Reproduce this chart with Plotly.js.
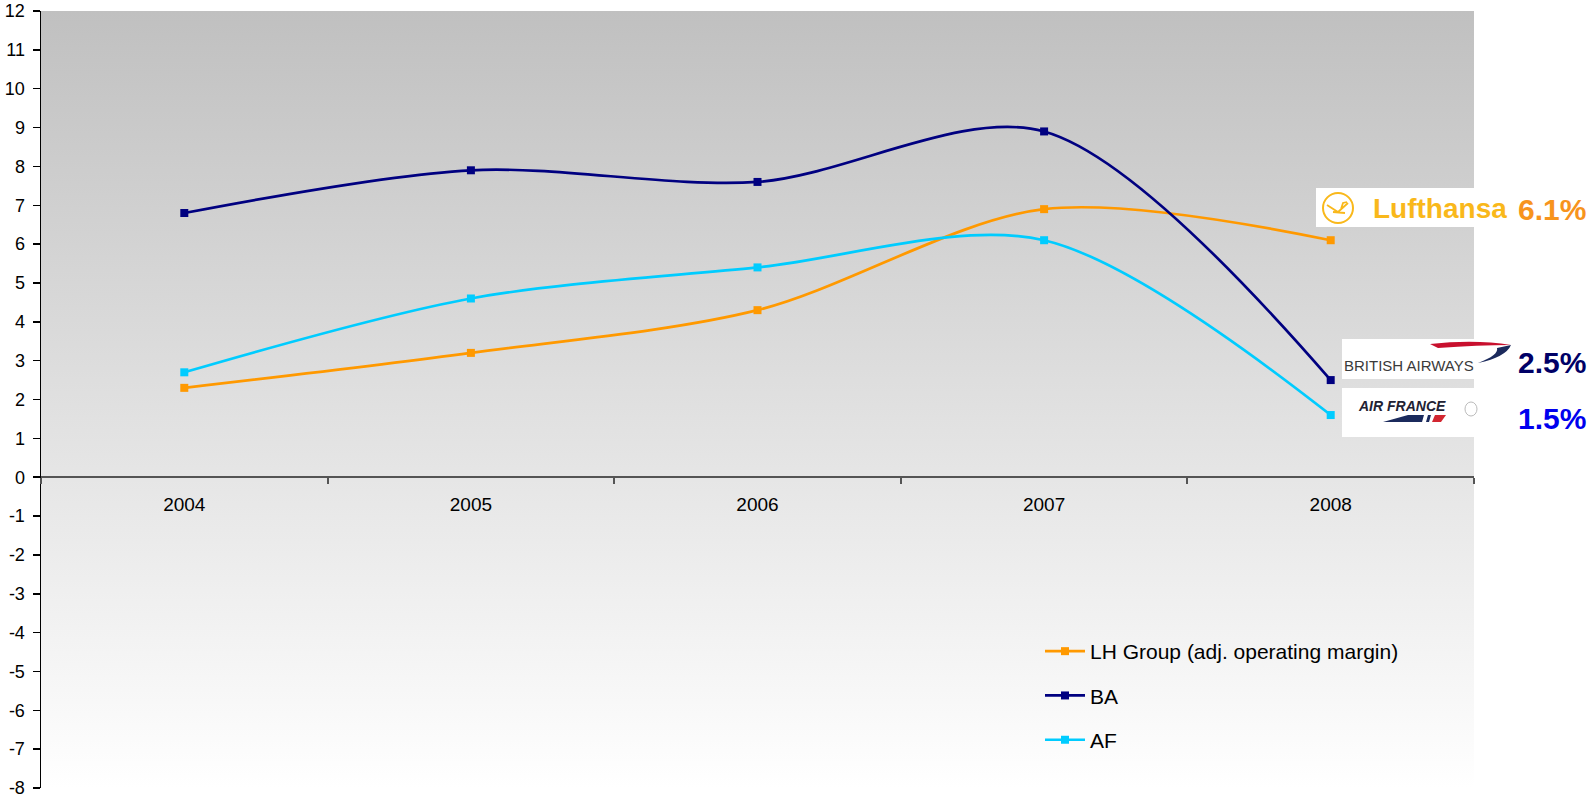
<!DOCTYPE html>
<html>
<head>
<meta charset="utf-8">
<script src="https://cdn.plot.ly/plotly-3.0.1.min.js"></script>
<style>html,body{margin:0;padding:0;background:#fff;}#chart{width:1592px;height:800px;}</style>
</head>
<body>
<div id="chart"></div>
<script>
// ---- data ----
const years = ['2004', '2005', '2006', '2007', '2008'];
const lhValues = [2.3, 3.2, 4.3, 6.9, 6.1];
const baValues = [6.8, 7.9, 7.6, 8.9, 2.5];
const afValues = [2.7, 4.6, 5.4, 6.1, 1.6];
const seriesNames = ['LH Group (adj. operating margin)', 'BA', 'AF'];
const endLabels = ['6.1%', '2.5%', '1.5%'];
const yTickVals = [-8, -7, -6, -5, -4, -3, -2, -1, 0, 1, 2, 3, 4, 5, 6, 7, 8, 9, 10, 11, 12];
const yTickText = ['-8', '-7', '-6', '-5', '-4', '-3', '-2', '-1', '0', '1', '2', '3', '4', '5', '6', '7', '8', '9', '10', '11', '12'];

// ---- layout geometry (pixels) ----
const W = 1592, H = 800;
const M = {l: 41, r: 118, t: 11, b: 12};
const PW = W - M.l - M.r, PH = H - M.t - M.b;
const px = x => (x - M.l) / PW;
const py = y => (H - M.b - y) / PH;

const colors = ['#FF9900', '#000080', '#00CCFF'];
const font = 'Arial, "Liberation Sans", sans-serif';

function line(name, y, c) {
  return {
    type: 'scatter', mode: 'lines+markers', name: name, x: years, y: y,
    line: {color: c, width: 2.7, shape: 'spline', smoothing: 0.9},
    marker: {symbol: 'square', size: 8, color: c},
    legendgroup: name, hoverinfo: 'x+y'
  };
}
const data = [
  line(seriesNames[0], lhValues, colors[0]),
  line(seriesNames[1], baValues, colors[1]),
  line(seriesNames[2], afValues, colors[2])
];

const grad = '<svg xmlns="http://www.w3.org/2000/svg" width="100" height="100" preserveAspectRatio="none">' +
  '<defs><linearGradient id="g" x1="0" y1="0" x2="0" y2="1"><stop offset="0" stop-color="#c0c0c0"/><stop offset="1" stop-color="#ffffff"/></linearGradient></defs>' +
  '<rect width="100" height="100" fill="url(#g)"/></svg>';

const shapes = [
  // Lufthansa box
  {type: 'rect', xref: 'paper', yref: 'paper', x0: px(1316), x1: px(1490), y0: py(227), y1: py(188), fillcolor: '#ffffff', line: {width: 0}, layer: 'above'},
  {type: 'circle', xref: 'paper', yref: 'paper', x0: px(1323), x1: px(1353), y0: py(223), y1: py(193), line: {color: '#F9B81B', width: 2}, layer: 'above'},
  {type: 'path', xref: 'paper', yref: 'paper', layer: 'above', line: {color: '#F9B81B', width: 1.8},
    path: `M ${px(1327)} ${py(205)} L ${px(1338)} ${py(212)} L ${px(1348)} ${py(203)} M ${px(1333)} ${py(212)} L ${px(1345)} ${py(213)} M ${px(1341)} ${py(209)} L ${px(1343)} ${py(203)} L ${px(1347)} ${py(202)}`},
  // BA box
  {type: 'rect', xref: 'paper', yref: 'paper', x0: px(1342), x1: px(1513), y0: py(379), y1: py(339), fillcolor: '#ffffff', line: {width: 0}, layer: 'above'},
  {type: 'path', xref: 'paper', yref: 'paper', layer: 'above', fillcolor: '#C8102E', line: {width: 0},
    path: `M ${px(1430)} ${py(344)} Q ${px(1475)} ${py(339)} ${px(1511)} ${py(345)} Q ${px(1478)} ${py(345)} ${px(1438)} ${py(348)} Z`},
  {type: 'path', xref: 'paper', yref: 'paper', layer: 'above', fillcolor: '#1B2A5C', line: {width: 0},
    path: `M ${px(1511)} ${py(345)} Q ${px(1506)} ${py(357)} ${px(1478)} ${py(363)} Q ${px(1499)} ${py(355)} ${px(1497)} ${py(348)} Z`},
  // AF box
  {type: 'rect', xref: 'paper', yref: 'paper', x0: px(1342), x1: px(1483), y0: py(437), y1: py(388), fillcolor: '#ffffff', line: {width: 0}, layer: 'above'},
  {type: 'path', xref: 'paper', yref: 'paper', layer: 'above', fillcolor: '#1B2A5C', line: {width: 0},
    path: `M ${px(1383)} ${py(422)} L ${px(1408)} ${py(415)} L ${px(1424)} ${py(415)} L ${px(1422)} ${py(422)} Z`},
  {type: 'path', xref: 'paper', yref: 'paper', layer: 'above', fillcolor: '#1B2A5C', line: {width: 0},
    path: `M ${px(1426)} ${py(422)} L ${px(1428)} ${py(415)} L ${px(1431)} ${py(415)} L ${px(1429)} ${py(422)} Z`},
  {type: 'path', xref: 'paper', yref: 'paper', layer: 'above', fillcolor: '#D22630', line: {width: 0},
    path: `M ${px(1432)} ${py(422)} L ${px(1435)} ${py(415)} L ${px(1446)} ${py(415)} L ${px(1441)} ${py(422)} Z`},
  {type: 'circle', xref: 'paper', yref: 'paper', x0: px(1465), x1: px(1477), y0: py(416), y1: py(402), line: {color: '#bbbbbb', width: 1}, layer: 'above'}
];

const annotations = [
  {xref: 'paper', yref: 'paper', x: px(1371), y: py(208), xanchor: 'left', yanchor: 'middle', showarrow: false,
    text: '<b>Lufthansa</b>', font: {family: font, size: 28, color: '#F9B81B'}},
  {xref: 'paper', yref: 'paper', x: px(1516), y: py(210), xanchor: 'left', yanchor: 'middle', showarrow: false,
    text: '<b>' + endLabels[0] + '</b>', font: {family: font, size: 30, color: '#F7941D'}},
  {xref: 'paper', yref: 'paper', x: px(1342), y: py(365), xanchor: 'left', yanchor: 'middle', showarrow: false,
    text: 'BRITISH AIRWAYS', font: {family: font, size: 15, color: '#3a3a3a'}},
  {xref: 'paper', yref: 'paper', x: px(1516), y: py(362), xanchor: 'left', yanchor: 'middle', showarrow: false,
    text: '<b>' + endLabels[1] + '</b>', font: {family: font, size: 30, color: '#000066'}},
  {xref: 'paper', yref: 'paper', x: px(1356), y: py(406), xanchor: 'left', yanchor: 'middle', showarrow: false,
    text: '<b><i>AIR FRANCE</i></b>', font: {family: font, size: 14, color: '#222233'}},
  {xref: 'paper', yref: 'paper', x: px(1516), y: py(418), xanchor: 'left', yanchor: 'middle', showarrow: false,
    text: '<b>' + endLabels[2] + '</b>', font: {family: font, size: 30, color: '#0000EE'}}
];

const layout = {
  width: W, height: H,
  margin: M,
  paper_bgcolor: '#ffffff',
  plot_bgcolor: 'rgba(0,0,0,0)',
  font: {family: font, color: '#000'},
  showlegend: true,
  legend: {
    x: px(1040), y: py(631), xanchor: 'left', yanchor: 'top',
    bgcolor: 'rgba(0,0,0,0)', font: {family: font, size: 21, color: '#000'},
    traceorder: 'grouped', tracegroupgap: 14, itemwidth: 40
  },
  images: [{
    source: 'data:image/svg+xml;charset=utf-8,' + encodeURIComponent(grad),
    xref: 'paper', yref: 'paper', x: 0, y: 1, sizex: 1, sizey: 1,
    sizing: 'stretch', xanchor: 'left', yanchor: 'top', layer: 'below'
  }],
  xaxis: {
    type: 'category', range: [-0.5, 4.5], fixedrange: true,
    anchor: 'free', position: 0.4,
    showline: true, linecolor: '#555555', linewidth: 2,
    ticks: 'outside', tickson: 'boundaries', ticklen: 6, tickcolor: '#555555', tickwidth: 2,
    showgrid: false, zeroline: false,
    tickfont: {family: font, size: 19, color: '#000'},
    ticklabelstandoff: 10, automargin: false
  },
  yaxis: {
    range: [-8, 12], tickmode: 'array', tickvals: yTickVals, ticktext: yTickText, fixedrange: true,
    showline: true, linecolor: '#000', linewidth: 1.5,
    ticks: 'outside', ticklen: 7, tickcolor: '#000', tickwidth: 1.5,
    showgrid: false, zeroline: false,
    tickfont: {family: font, size: 18, color: '#000'},
    ticklabelstandoff: 4, automargin: false
  },
  shapes: shapes,
  annotations: annotations
};

Plotly.newPlot('chart', data, layout, {displayModeBar: false, staticPlot: true});
</script>
</body>
</html>
